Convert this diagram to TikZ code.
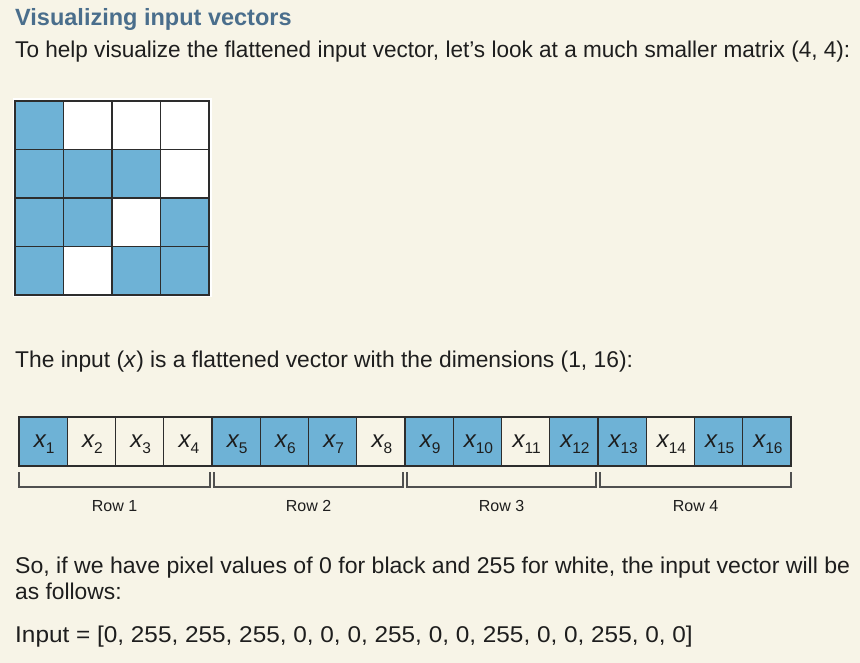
\documentclass[tikz,border=0pt]{standalone}
\usepackage{fontspec}
\setmainfont{Liberation Sans}
\definecolor{bg}{RGB}{247,244,231}
\definecolor{cellblue}{RGB}{110,178,214}
\definecolor{titleblue}{RGB}{74,110,140}
\definecolor{gridline}{RGB}{45,45,45}
\definecolor{txtcol}{RGB}{30,30,30}
\definecolor{brkcol}{RGB}{80,80,80}
\begin{document}
\begin{tikzpicture}[x=1pt,y=-1pt,
  txt/.style={anchor=base west,inner sep=0pt,text=txtcol,font=\fontsize{22.8}{27}\selectfont},
  mcell/.style={draw=gridline,line width=1.3pt,minimum size=48.5pt,inner sep=0pt},
  vcell/.style={draw=gridline,line width=1.3pt,minimum width=48.25pt,minimum height=49pt,inner sep=0pt},
  vlab/.style={anchor=base,inner sep=0pt,text=txtcol},
  brk/.style={draw=brkcol,line width=1.3pt},
  rowlab/.style={anchor=base,inner sep=0pt,text=txtcol,font=\fontsize{16}{19}\selectfont}]
\useasboundingbox[fill=bg] (0,0) rectangle (860,663);
% texts
\node[anchor=base west,inner sep=0pt,text=titleblue] (title) at (15,26)
  {\bfseries\fontsize{23.5}{28}\selectfont Visualizing input vectors};
\node[txt] (l1) at (15,58) {\scalebox{0.99}[1]{To help visualize the flattened input vector, let’s look at a much smaller matrix (4, 4):}};
\node[txt] (l2) at (15,367) {The input (\textit{x}) is a flattened vector with the dimensions (1, 16):};
\node[txt] (l3) at (15,573) {\scalebox{1.012}[1]{So, if we have pixel values of 0 for black and 255 for white, the input vector will be}};
\node[txt] (l4) at (15,599) {as follows:};
\node[txt] (l5) at (15,642) {\scalebox{1.068}[1]{Input = [0, 255, 255, 255, 0, 0, 0, 255, 0, 0, 255, 0, 0, 255, 0, 0]}};
% matrix
\fill[white] (12.5,98.5) rectangle (211.5,297.5);
\foreach \r/\c/\f in {1/1/cellblue,1/2/white,1/3/white,1/4/white,
                      2/1/cellblue,2/2/cellblue,2/3/cellblue,2/4/white,
                      3/1/cellblue,3/2/cellblue,3/3/white,3/4/cellblue,
                      4/1/cellblue,4/2/white,4/3/cellblue,4/4/cellblue}
  \node[mcell,fill=\f] (m-\r-\c) at ({15+48.5*(\c-0.5)},{101+48.5*(\r-0.5)}) {};
% vector
\foreach \k/\f in {1/cellblue,2/bg,3/bg,4/bg,5/cellblue,6/cellblue,7/cellblue,8/bg,
                   9/cellblue,10/cellblue,11/bg,12/cellblue,13/cellblue,14/bg,15/cellblue,16/cellblue}
{
  \node[vcell,fill=\f] (v-\k) at ({19+48.25*(\k-0.5)},441.5) {};
  \node[vlab] (v-\k-lab) at ({19+48.25*(\k-0.5)+1},447)
    {{\fontsize{24}{24}\selectfont\itshape x}\raisebox{-6pt}{\fontsize{15.5}{15.5}\selectfont\k}};
}
% brackets
\draw[brk] (19,472) |- (210,487) -- (210,472);
\draw[brk] (214,472) |- (403,487) -- (403,472);
\draw[brk] (407,472) |- (596,487) -- (596,472);
\draw[brk] (600,472) |- (791,487) -- (791,472);
\node[rowlab] (r1) at (114.5,511) {Row 1};
\node[rowlab] (r2) at (308.5,511) {Row 2};
\node[rowlab] (r3) at (501.5,511) {Row 3};
\node[rowlab] (r4) at (695.5,511) {Row 4};
\end{tikzpicture}
\end{document}
